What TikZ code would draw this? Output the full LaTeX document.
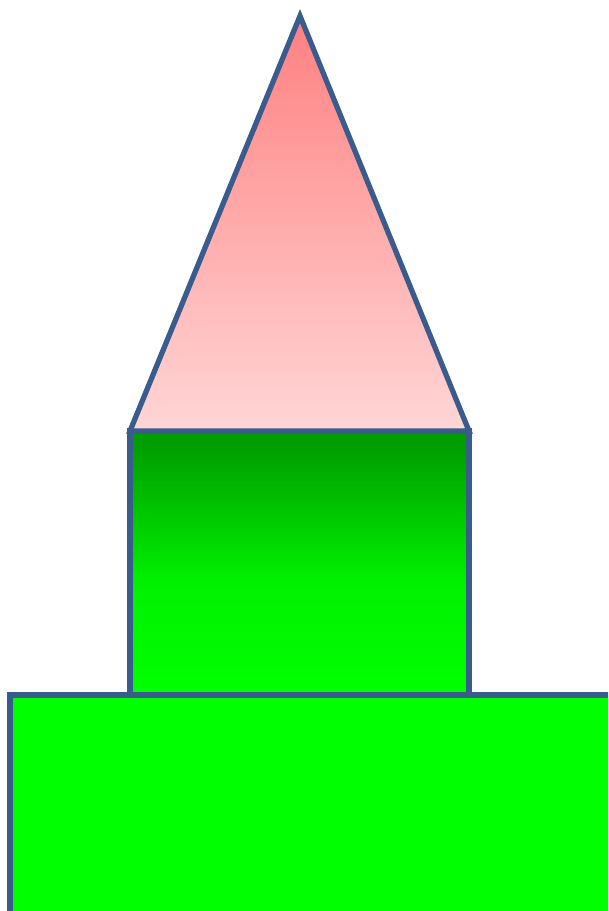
\documentclass[tikz,border=0pt]{standalone}
\usepackage{tikz}
\usepackage{xcolor}
\usetikzlibrary{calc}
\definecolor{outlineblue}{RGB}{58,92,140}
\definecolor{roofred}{RGB}{255,128,128}
\definecolor{roofpink}{RGB}{255,214,214}
\definecolor{towerdark}{RGB}{0,158,0}
\definecolor{towermid}{RGB}{0,242,0}
\definecolor{basegreen}{RGB}{0,255,0}
\pgfdeclareverticalshading{towershade}{100bp}{color(0bp)=(basegreen); color(25bp)=(basegreen);
  color(46bp)=(towermid); color(72bp)=(towerdark); color(100bp)=(towerdark)}

\begin{document}
\begin{tikzpicture}[
        x=0.02cm, y=-0.02cm,
        part/.style={draw=outlineblue, line width=3pt, line join=miter},
        roof/.style={part, top color=roofred, bottom color=roofpink},
        tower/.style={part, shading=towershade},
        base/.style={part, fill=basegreen}
      ]
        \useasboundingbox (0,0) rectangle (608,911);
        \clip (0,0) rectangle (608,911);
        \coordinate (apex) at (300,16);
        \coordinate (eaveL) at (130,431);
        \coordinate (eaveR) at (469,431);
        \coordinate (footL) at (130,695);
        \coordinate (footR) at (469,695);

        % base block runs off the page
        \draw[base] (10,960) -- (10,695) -- (660,695) -- (660,960);
        \draw[tower] (eaveL) rectangle (footR);
        \draw[roof] (apex) -- (eaveR) -- (eaveL) -- cycle;
      \end{tikzpicture}
\end{document}
